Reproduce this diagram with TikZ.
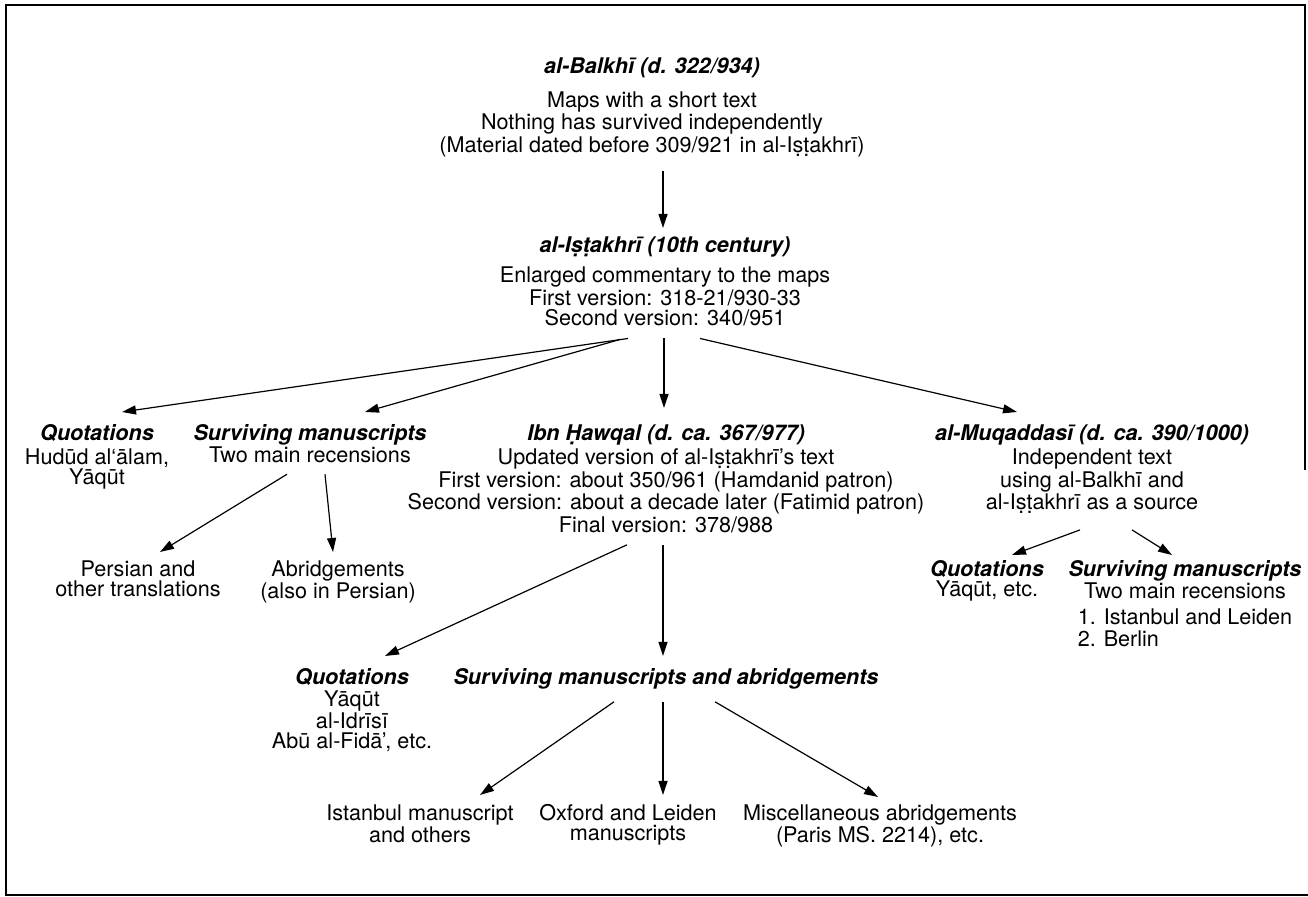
\documentclass[tikz,border=0pt]{standalone}
\usepackage{fontspec}
\setmainfont{TeX Gyre Heros}
\usetikzlibrary{arrows.meta,calc}
\tikzset{
  txt/.style={align=center,inner sep=0pt,anchor=north,
    font=\fontsize{10.8}{10}\selectfont,execute at end node=\strut},
  arr/.style={-{Triangle[length=7pt,width=4.5pt]},line width=0.6pt},
}
\newcommand{\hd}[1]{\textbf{\textit{#1}}}
\begin{document}
\begin{tikzpicture}[x=0.5pt,y=-0.5pt]
  \useasboundingbox (0,0) rectangle (1308,897);
  \draw[line width=0.8pt] (1305,470) -- (1305,5) -- (6,5) -- (6,895) -- (1308,895);
  % sources
  \node[txt] (balkhi) at (652,57) {\hd{al-Balkhī (d. 322/934)}\\[6pt]
    Maps with a short text\\ Nothing has survived independently\\
    (Material dated before 309/921 in al-Iṣṭakhrī)};
  \node[txt] (istakhri) at (665,236) {\hd{al-Iṣṭakhrī (10th century)}\\[4pt]
    Enlarged commentary to the maps\\ First version: 318-21/930-33\\
    Second version: 340/951};
  \node[txt] (quot1) at (97,424) {\hd{Quotations}\\[2pt] Hudūd al‘ālam,\\ Yāqūt};
  \node[txt] (surv1) at (310,424) {\hd{Surviving manuscripts}\\ Two main recensions};
  \node[txt] (hawqal) at (666,424) {\hd{Ibn Ḥawqal (d. ca. 367/977)}\\[1pt]
    Updated version of al-Iṣṭakhrī's text\\
    First version: about 350/961 (Hamdanid patron)\\
    Second version: about a decade later (Fatimid patron)\\
    Final version: 378/988};
  \node[txt] (muqaddasi) at (1092,424) {\hd{al-Muqaddasī (d. ca. 390/1000)}\\[1pt]
    Independent text\\ using al-Balkhī and\\ al-Iṣṭakhrī as a source};
  % descendants
  \node[txt] (persian) at (138,560) {Persian and\\ other translations};
  \node[txt] (abridg) at (338,560) {Abridgements\\ (also in Persian)};
  \node[txt] (quot3) at (987,560) {\hd{Quotations}\\ Yāqūt, etc.};
  \node[txt] (surv3) at (1185,560) {\hd{Surviving manuscripts}\\ Two main recensions\\[3pt]
    {\begin{tabular}[t]{@{}l@{}}1. Istanbul and Leiden\\ 2. Berlin\end{tabular}}};
  \node[txt] (quot2) at (352,668) {\hd{Quotations}\\[1pt] Yāqūt\\ al-Idrīsī\\ Abū al-Fidā’, etc.};
  \node[txt] (surv2) at (666,668) {\hd{Surviving manuscripts and abridgements}};
  \node[txt] (istanbul) at (420,804) {Istanbul manuscript\\ and others};
  \node[txt] (oxford) at (628,804) {Oxford and Leiden\\ manuscripts};
  \node[txt] (misc) at (880,804) {Miscellaneous abridgements\\ (Paris MS. 2214), etc.};
  % arrows
  \draw[arr] ($(balkhi.south)+(11,12)$) -- ($(istakhri.north)+(-2,-8)$);
  \draw[arr] ($(istakhri.south)+(-37,7)$) -- ($(quot1.north)+(25,-12)$);
  \draw[arr] ($(istakhri.south)+(-45,8)$) -- ($(surv1.north)+(55,-12)$);
  \draw[arr] ($(istakhri.south)+(-1,7)$) -- ($(hawqal.north)+(-2,-16)$);
  \draw[arr] ($(istakhri.south)+(35,7)$) -- ($(muqaddasi.north)+(-75,-12)$);
  \draw[arr] ($(surv1.south)+(-23,5)$) -- ($(persian.north)+(22,-8)$);
  \draw[arr] ($(surv1.south)+(15,5)$) -- ($(abridg.north)+(-5,-8)$);
  \draw[arr] ($(muqaddasi.south)+(-12,14)$) -- ($(quot3.north)+(25,-5)$);
  \draw[arr] ($(muqaddasi.south)+(40,14)$) -- ($(surv3.north)+(-13,-5)$);
  \draw[arr] ($(hawqal.south)+(-39,6)$) -- ($(quot2.north)+(33,-12)$);
  \draw[arr] ($(hawqal.south)+(-3,6)$) -- ($(surv2.north)+(-3,-12)$);
  \draw[arr] ($(surv2.south)+(-52,11)$) -- ($(istanbul.north)+(60,-9)$);
  \draw[arr] ($(surv2.south)+(-3,11)$) -- ($(oxford.north)+(35,-9)$);
  \draw[arr] ($(surv2.south)+(49,11)$) -- ($(misc.north)+(-2,-7)$);
\end{tikzpicture}
\end{document}
